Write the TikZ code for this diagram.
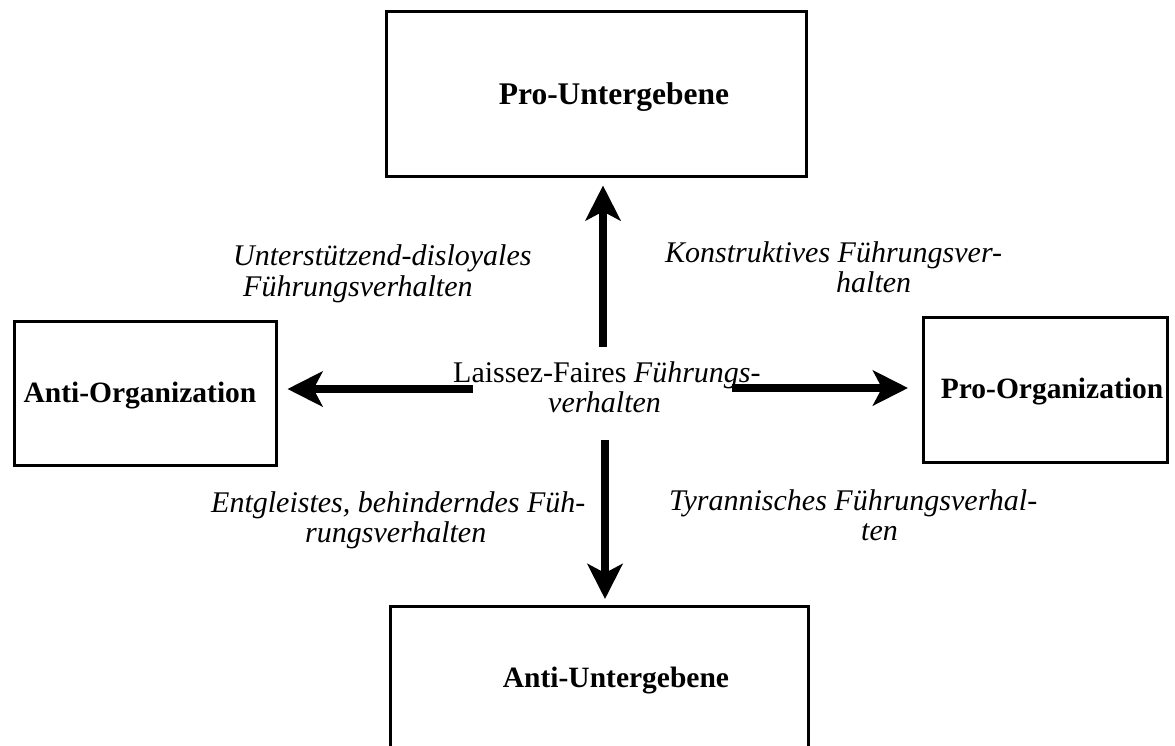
\documentclass[tikz,border=0pt]{standalone}
\usepackage{fontspec}
\setmainfont{Liberation Serif}
\usetikzlibrary{arrows.meta}
\begin{document}
\begin{tikzpicture}[x=1pt,y=-1pt,
  box/.style={draw=black, line width=2.5pt, inner sep=0pt, anchor=north west},
  lbl/.style={font=\fontsize{29.5}{34}\selectfont\bfseries, inner sep=0pt, anchor=base},
  txt/.style={font=\fontsize{30}{34}\selectfont\itshape, inner sep=0pt, anchor=base west},
  arr/.style={line width=8pt, -{Stealth[length=35pt,width=35pt,inset=9pt]}}
]
\useasboundingbox (0,0) rectangle (1175,745);
% boxes
\node[box, minimum width=420pt, minimum height=165pt] (top) at (385,10) {};
\node[box, minimum width=262pt, minimum height=144pt] (left) at (13,320) {};
\node[box, minimum width=244pt, minimum height=145pt] (right) at (922,316) {};
\node[box, minimum width=418pt, minimum height=165pt] (bottom) at (389,605) {};
% box labels
\node[lbl, font=\fontsize{31.5}{36}\selectfont\bfseries] (topl) at (614,104) {Pro-Untergebene};
\node[lbl] (leftl) at (140,402) {Anti-Organization};
\node[lbl] (rightl) at (1052,398) {Pro-Organization};
\node[lbl] (bottoml) at (616,687) {Anti-Untergebene};
% centre text
\node[txt] (c1) at (453,382) {\upshape Laissez-Faires \itshape Führungs-};
\node[txt] (c2) at (548,412) {verhalten};
% side labels
\node[txt] (ul1) at (233,265) {Unterstützend-disloyales};
\node[txt] (ul2) at (243,296) {Führungsverhalten};
\node[txt] (ur1) at (665,262) {Konstruktives Führungsver-};
\node[txt] (ur2) at (836,292) {halten};
\node[txt] (ll1) at (211,512) {Entgleistes, behinderndes Füh-};
\node[txt] (ll2) at (305,542) {rungsverhalten};
\node[txt] (lr1) at (669,510) {Tyrannisches Führungsverhal-};
\node[txt] (lr2) at (861,540) {ten};
% arrow starts
\coordinate (su) at (603,347);
\coordinate (sd) at (605,440);
\coordinate (sl) at (473,389);
\coordinate (sr) at (732,388);
% arrows
\draw[arr, shorten >=8pt] (su) -- (su |- top.south);
\draw[arr, shorten >=6pt] (sd) -- (sd |- bottom.north);
\draw[arr, shorten >=10pt] (sl) -- (sl -| left.east);
\draw[arr, shorten >=14pt] (sr) -- (sr -| right.west);
\end{tikzpicture}
\end{document}
